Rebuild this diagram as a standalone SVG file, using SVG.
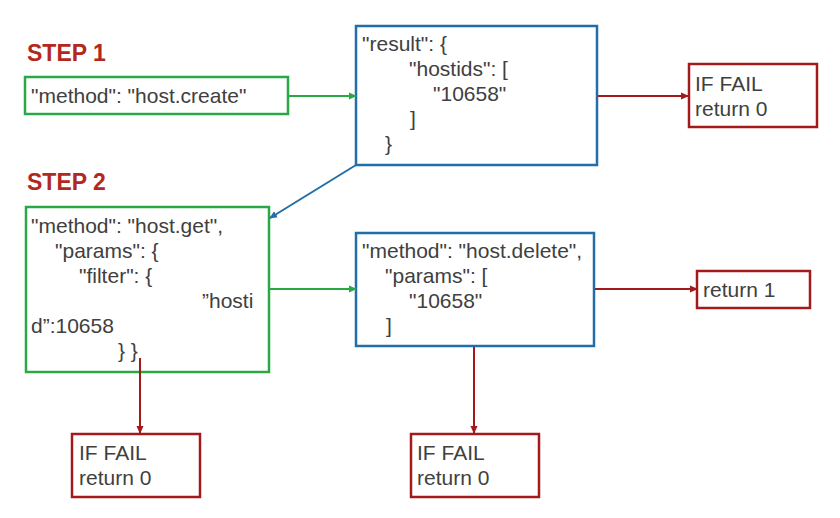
<svg xmlns="http://www.w3.org/2000/svg" width="840" height="518" viewBox="0 0 840 518">
<defs>
<style>
.t{font-family:"Liberation Sans",Arial,Helvetica,sans-serif;font-size:21px;fill:#404040}
.step{font-family:"Liberation Sans",Arial,Helvetica,sans-serif;font-size:23px;font-weight:bold;fill:#b3281c}
.g{fill:#fff;stroke:#2aa845;stroke-width:2.5}
.b{fill:#fff;stroke:#226ea8;stroke-width:2.5}
.r{fill:#fff;stroke:#a3191c;stroke-width:2.5}
.cg{stroke:#2aa845;stroke-width:2;fill:none}
.cb{stroke:#226ea8;stroke-width:2;fill:none}
.cr{stroke:#a3191c;stroke-width:2;fill:none}
</style>
<marker id="ag" markerWidth="8" markerHeight="8" refX="7" refY="4" orient="auto" markerUnits="userSpaceOnUse"><path d="M0,0.5 L8,4 L0,7.5 z" fill="#2aa845"/></marker>
<marker id="ab" markerWidth="8" markerHeight="8" refX="7" refY="4" orient="auto" markerUnits="userSpaceOnUse"><path d="M0,0.5 L8,4 L0,7.5 z" fill="#226ea8"/></marker>
<marker id="ar" markerWidth="8" markerHeight="8" refX="7" refY="4" orient="auto" markerUnits="userSpaceOnUse"><path d="M0,0.5 L8,4 L0,7.5 z" fill="#a3191c"/></marker>
</defs>
<rect width="840" height="518" fill="#fff"/>
<text class="step" x="27" y="61">STEP 1</text>
<text class="step" x="27" y="190">STEP 2</text>

<g id="host-create">
<rect class="g" x="25" y="77" width="263" height="37"/>
<text class="t" x="31" y="103">"method": "host.create"</text>
</g>

<g id="result">
<rect class="b" x="356" y="26" width="241" height="139"/>
<text class="t" x="362" y="51">"result": {</text>
<text class="t" x="409" y="76">"hostids": [</text>
<text class="t" x="433" y="101">"10658"</text>
<text class="t" x="410" y="126">]</text>
<text class="t" x="385" y="151">}</text>
</g>

<g id="fail1">
<rect class="r" x="689" y="64" width="128" height="63"/>
<text class="t" x="695" y="91">IF FAIL</text>
<text class="t" x="695" y="116">return 0</text>
</g>

<g id="host-get">
<rect class="g" x="26" y="207" width="243" height="165"/>
<text class="t" x="31" y="233">"method": "host.get",</text>
<text class="t" x="55" y="258">"params": {</text>
<text class="t" x="79" y="283">"filter": {</text>
<text class="t" x="202" y="308">”hosti</text>
<text class="t" x="31" y="333">d”:10658</text>
<text class="t" x="118" y="358">} }</text>
</g>

<g id="host-delete">
<rect class="b" x="356" y="233" width="238" height="113"/>
<text class="t" x="362" y="258">"method": "host.delete",</text>
<text class="t" x="385" y="283">"params": [</text>
<text class="t" x="409" y="308">"10658"</text>
<text class="t" x="386" y="333">]</text>
</g>

<g id="return1">
<rect class="r" x="697" y="271" width="113" height="37"/>
<text class="t" x="703" y="297">return 1</text>
</g>

<g id="fail2">
<rect class="r" x="72" y="434" width="128" height="63"/>
<text class="t" x="79" y="460">IF FAIL</text>
<text class="t" x="79" y="485">return 0</text>
</g>

<g id="fail3">
<rect class="r" x="411" y="434" width="128" height="63"/>
<text class="t" x="417" y="460">IF FAIL</text>
<text class="t" x="417" y="485">return 0</text>
</g>

<g id="connectors">
<line class="cg" x1="289" y1="96" x2="356" y2="96" marker-end="url(#ag)"/>
<line class="cr" x1="598" y1="96" x2="688" y2="96" marker-end="url(#ar)"/>
<line class="cb" x1="356" y1="165" x2="270" y2="218" marker-end="url(#ab)"/>
<line class="cg" x1="270" y1="289" x2="356" y2="289" marker-end="url(#ag)"/>
<line class="cr" x1="595" y1="289" x2="697" y2="289" marker-end="url(#ar)"/>
<line class="cr" x1="140" y1="358" x2="140" y2="433" marker-end="url(#ar)"/>
<line class="cr" x1="474" y1="347" x2="474" y2="433" marker-end="url(#ar)"/>
</g>
</svg>
